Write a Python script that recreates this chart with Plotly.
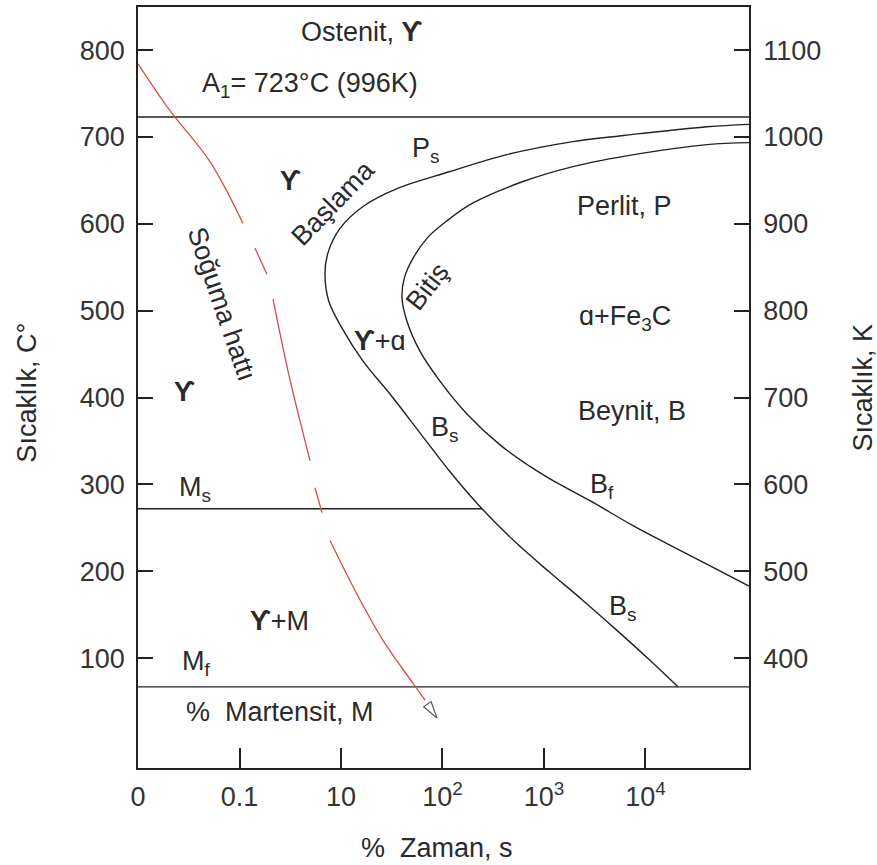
import math
import plotly.graph_objects as go

# ---- axes -------------------------------------------------------------
time_pos = [0, 1, 2, 3, 4, 5]
time_labels = ["0", "0.1", "10", "10<sup>2</sup>", "10<sup>3</sup>", "10<sup>4</sup>"]
temp_c_ticks = [100, 200, 300, 400, 500, 600, 700, 800]
temp_k_ticks = [400, 500, 600, 700, 800, 900, 1000, 1100]
K_OFFSET = 300          # right-hand scale offset (°C -> K as printed)

X_RANGE = [0, 6.02]
T_RANGE = [-26.4, 849.6]

# ---- characteristic temperatures (°C) ----------------------------------
A1 = 723
MS = 272
MF = 67

# ---- transformation start curve (Ps / Bs, "Başlama") --------------------
start_x = [6.02, 5.606, 4.946, 4.286, 3.635, 3.074, 2.552, 2.217, 1.990, 1.870,
           1.842, 1.880, 2.010, 2.217, 2.483, 2.808, 3.074, 3.389, 3.734, 4.059,
           4.384, 4.719, 5.044, 5.320]
start_t = [714.5, 711.8, 703.8, 694.6, 679.7, 660.2, 640.6, 620.0, 594.7, 566.0,
           541.9, 510.9, 479.9, 442.0, 404.1, 354.8, 314.6, 272.0, 231.9, 198.6,
           166.5, 132.0, 97.6, 67.0]

# ---- transformation finish curve (Bf, "Bitiş") --------------------------
finish_x = [6.02, 5.606, 4.946, 4.286, 3.793, 3.300, 3.050, 2.860, 2.709, 2.625,
            2.601, 2.650, 2.778, 2.975, 3.241, 3.567, 3.862, 4.059, 4.453, 4.877,
            5.212, 5.537, 6.02]
finish_t = [693.5, 691.2, 680.8, 665.9, 648.7, 624.0, 604.0, 585.0, 560.3, 538.0,
            515.0, 487.9, 453.5, 419.0, 381.2, 345.6, 320.8, 306.5, 281.3, 252.6,
            231.9, 212.4, 183.0]

# ---- cooling line ("Soğuma hattı"), drawn in broken segments ------------
cool_x = [0.0, 0.315, 0.709, 1.034, None,
          1.153, 1.271, None,
          1.330, 1.478, 1.596, 1.695, None,
          1.744, 1.813, None,
          1.892, 2.138, 2.414, 2.709, 2.828]
cool_t = [784.2, 730.2, 671.6, 600.5, None,
          571.8, 541.9, None,
          513.2, 430.5, 373.1, 327.2, None,
          296.2, 267.5, None,
          235.4, 178.0, 120.6, 71.2, 51.7]
arrow_tip = (2.946, 31.0)

FONT = "Liberation Sans, Arial, DejaVu Sans, sans-serif"
INK = "#222222"
TXT = "#2a2a2a"
LW = 1.4
FS = 27

W, H = 877, 865
M_L, M_R, M_T, M_B = 138, 128, 5, 97
px_per_x = (W - M_L - M_R) / (X_RANGE[1] - X_RANGE[0])
px_per_t = (H - M_T - M_B) / (T_RANGE[1] - T_RANGE[0])


def open_arrowhead(tail, tip, length=17, half_width=4.5):
    """Hollow triangular head (screen-space size) pointing from tail to tip."""
    dx = (tip[0] - tail[0]) * px_per_x
    dy = (tip[1] - tail[1]) * px_per_t
    n = math.hypot(dx, dy)
    ux, uy = dx / n, dy / n
    bx, by = -ux * length, -uy * length
    wx, wy = -uy * half_width, ux * half_width
    pts = [(0, 0), (bx + wx, by + wy), (bx - wx, by - wy), (0, 0)]
    xs = [tip[0] + p[0] / px_per_x for p in pts]
    ys = [tip[1] + p[1] / px_per_t for p in pts]
    return xs, ys


fig = go.Figure()

line_style = dict(color=INK, width=LW)
curve_style = dict(color=INK, width=LW, shape="spline", smoothing=1.0)

# phase boundaries
fig.add_trace(go.Scatter(x=start_x, y=start_t, mode="lines", line=curve_style))
fig.add_trace(go.Scatter(x=finish_x, y=finish_t, mode="lines", line=curve_style))

# horizontal reference temperatures
ms_end = start_x[start_t.index(MS)]
fig.add_trace(go.Scatter(x=[X_RANGE[0], X_RANGE[1]], y=[A1, A1], mode="lines", line=line_style))
fig.add_trace(go.Scatter(x=[X_RANGE[0], ms_end], y=[MS, MS], mode="lines", line=line_style))
fig.add_trace(go.Scatter(x=[X_RANGE[0], X_RANGE[1]], y=[MF, MF], mode="lines", line=line_style))

# cooling path with open arrowhead at its end
fig.add_trace(go.Scatter(x=cool_x, y=cool_t, mode="lines", connectgaps=False,
                         line=dict(color="#d94a4a", width=1.3, shape="spline", smoothing=1.0)))
head_x, head_t = open_arrowhead((cool_x[-2], cool_t[-2]), arrow_tip)
fig.add_trace(go.Scatter(x=head_x, y=head_t, mode="lines", fill="toself",
                         fillcolor="white", line=dict(color="#555555", width=1.2)))

# right-hand Kelvin scale carrier
fig.add_trace(go.Scatter(x=[X_RANGE[0]], y=[T_RANGE[0] + K_OFFSET], yaxis="y2",
                         mode="markers", marker=dict(opacity=0), hoverinfo="skip"))

G = "<b>ϒ</b>"
labels = [
    ("Ostenit, " + G, 2.207, 821, 0),
    ("A<sub>1</sub>= 723°C (996K)", 1.695, 760, 0),
    ("P<sub>s</sub>", 2.83, 685, 0),
    (G, 1.507, 649, 0),
    ("Başlama", 1.921, 624, -46),
    ("Soğuma hattı", 0.828, 508, 71),
    ("Perlit, P", 4.798, 621, 0),
    ("Bitiş", 2.857, 528, -52),
    (G + "+ɑ", 2.384, 465, 0),
    ("ɑ+Fe<sub>3</sub>C", 4.798, 492, 0),
    (G, 0.463, 407, 0),
    ("Beynit, B", 4.867, 385, 0),
    ("B<sub>s</sub>", 3.02, 364, 0),
    ("M<sub>s</sub>", 0.562, 295, 0),
    ("B<sub>f</sub>", 4.571, 298, 0),
    (G + "+M", 1.399, 143, 0),
    ("B<sub>s</sub>", 4.778, 158, 0),
    ("M<sub>f</sub>", 0.581, 94, 0),
    ("%  Martensit, M", 1.399, 38, 0),
]
for text, x, y, ang in labels:
    fig.add_annotation(x=x, y=y, text=text, showarrow=False, textangle=ang,
                       xanchor="center", yanchor="middle",
                       font=dict(family=FONT, size=FS, color=TXT))

# axis titles
title_font = dict(family=FONT, size=FS, color=TXT)
fig.add_annotation(xref="paper", yref="paper", x=-0.182, y=0.493, text="Sıcaklık, C°",
                   textangle=-90, showarrow=False, xanchor="center", yanchor="middle",
                   font=title_font)
fig.add_annotation(xref="paper", yref="paper", x=1.185, y=0.50, text="Sıcaklık, K",
                   textangle=-90, showarrow=False, xanchor="center", yanchor="middle",
                   font=title_font)
fig.add_annotation(xref="paper", yref="paper", x=0.489, y=-0.105, text="%  Zaman, s",
                   showarrow=False, xanchor="center", yanchor="middle", font=title_font)

axis_common = dict(showline=True, linecolor=INK, linewidth=1.6, ticks="inside",
                   tickcolor=INK, tickwidth=1.5, showgrid=False, zeroline=False,
                   tickfont=dict(family=FONT, size=FS, color="#333333"))

fig.update_layout(
    width=W, height=H,
    margin=dict(l=M_L, r=M_R, t=M_T, b=M_B),
    paper_bgcolor="white", plot_bgcolor="white",
    showlegend=False,
    xaxis=dict(axis_common, range=X_RANGE, tickvals=time_pos, ticktext=time_labels,
               ticklen=20, mirror=True, ticklabelstandoff=4),
    yaxis=dict(axis_common, range=T_RANGE, tickvals=temp_c_ticks, ticklen=15,
               ticklabelstandoff=6),
    yaxis2=dict(axis_common, range=[T_RANGE[0] + K_OFFSET, T_RANGE[1] + K_OFFSET],
                tickvals=temp_k_ticks, ticklen=15, overlaying="y", side="right",
                ticklabelstandoff=7),
)

fig.write_html("out.html")
